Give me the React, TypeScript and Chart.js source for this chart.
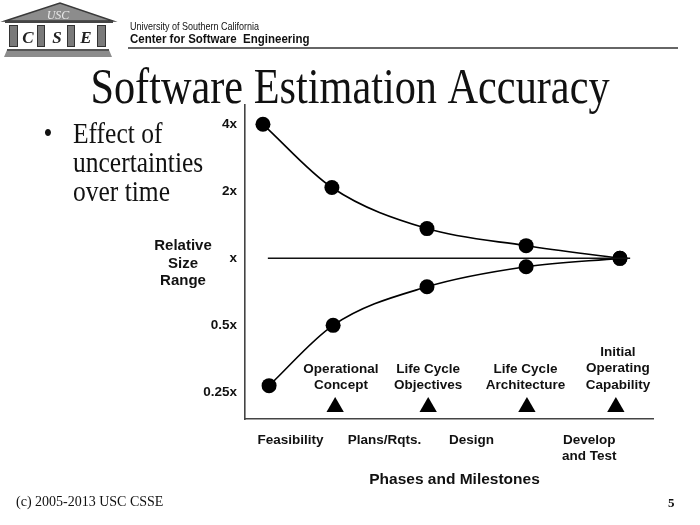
import React, { useEffect, useRef } from "react";
import { Chart, registerables } from "chart.js";

Chart.register(...registerables);

// ---- data ----
const upperX = [0.44, 2.13, 4.46, 6.89, 9.19];
const upperY = [4, 2.08, 1.36, 1.14, 1];
const lowerX = [0.59, 2.16, 4.46, 6.89, 9.19];
const lowerY = [0.268, 0.5, 0.745, 0.917, 1];
const milestoneX = [2.21, 4.49, 6.91, 9.09];
const milestoneY = [0.215, 0.215, 0.215, 0.215];
const referenceX = [0.56, 9.44];
const referenceY = [1, 1];
const tickValues = [0.25, 0.5, 1, 2, 4];
const tickLabels = ["0.25x", "0.5x", "x", "2x", "4x"];
const milestoneLabelX = [2.35, 4.49, 6.875, 9.14];
const milestoneLabels = [
  ["Operational", "Concept"],
  ["Life Cycle", "Objectives"],
  ["Life Cycle", "Architecture"],
  ["Initial", "Operating", "Capability"],
];
const phaseLabelX = [1.115, 3.42, 5.55, 8.44];
const phaseLabels = [["Feasibility"], ["Plans/Rqts."], ["Design"], ["Develop", "and Test"]];
const yTitleLines = ["Relative", "Size", "Range"];
const bulletLines = ["Effect of", "uncertainties", "over time"];
const titleText = "Software Estimation Accuracy";
const xTitleText = "Phases and Milestones";
const headerSmall = "University of Southern California";
const headerBig = "Center for Software  Engineering";
const footerText = "(c) 2005-2013 USC CSSE";
const pageNumber = "5";

const SANS = '"Liberation Sans", Arial, sans-serif';
const SERIF = '"Liberation Serif", "Times New Roman", serif';
const INK = "#111";

function pts(xs: number[], ys: number[]) {
  return xs.map((x, i) => ({ x, y: ys[i] }));
}

function drawText(
  ctx: CanvasRenderingContext2D,
  text: string,
  x: number,
  y: number,
  font: string,
  align: CanvasTextAlign = "center",
  sy = 1,
  color = INK
) {
  ctx.save();
  ctx.font = font;
  ctx.fillStyle = color;
  ctx.textAlign = align;
  ctx.textBaseline = "alphabetic";
  ctx.translate(x, y);
  ctx.scale(1, sy);
  ctx.fillText(text, 0, 0);
  ctx.restore();
}

function drawLogo(ctx: CanvasRenderingContext2D) {
  ctx.save();
  // pediment
  ctx.beginPath();
  ctx.moveTo(5, 21);
  ctx.lineTo(60, 3);
  ctx.lineTo(113, 21);
  ctx.closePath();
  ctx.fillStyle = "#8c8c8c";
  ctx.fill();
  ctx.strokeStyle = "#3a3a3a";
  ctx.lineWidth = 1.5;
  ctx.stroke();
  drawText(ctx, "USC", 58, 18.5, `italic 12px ${SERIF}`, "center", 1, "#e8e8e8");
  // architrave line
  ctx.fillStyle = "#444";
  ctx.fillRect(5, 21, 108, 2);
  // columns
  const cols = [
    [9, 9],
    [37, 8],
    [67, 8],
    [97, 9],
  ];
  cols.forEach(([x, w]) => {
    ctx.fillStyle = "#7a7a7a";
    ctx.fillRect(x, 25, w, 22);
    ctx.strokeStyle = "#333";
    ctx.lineWidth = 1;
    ctx.strokeRect(x + 0.5, 25.5, w - 1, 21);
  });
  drawText(ctx, "C", 28, 43, `italic bold 17px ${SERIF}`, "center", 1, "#222");
  drawText(ctx, "S", 57, 43, `italic bold 17px ${SERIF}`, "center", 1, "#222");
  drawText(ctx, "E", 86, 43, `italic bold 17px ${SERIF}`, "center", 1, "#222");
  // base
  ctx.beginPath();
  ctx.moveTo(7, 50);
  ctx.lineTo(109, 50);
  ctx.lineTo(112, 57);
  ctx.lineTo(4, 57);
  ctx.closePath();
  ctx.fillStyle = "#8c8c8c";
  ctx.fill();
  ctx.fillStyle = "#555";
  ctx.fillRect(7, 49, 102, 2);
  ctx.restore();
}

const slidePlugin = {
  id: "slideText",
  afterDraw(chart: any) {
    const ctx: CanvasRenderingContext2D = chart.ctx;
    const xs = chart.scales.x;
    drawLogo(ctx);
    // header
    drawText(ctx, headerSmall, 130, 30, `9px ${SANS}`, "left", 1.12);
    drawText(ctx, headerBig, 130, 42.5, `bold 11.5px ${SANS}`, "left", 1.12);
    ctx.save();
    ctx.strokeStyle = "#333";
    ctx.lineWidth = 1.3;
    ctx.beginPath();
    ctx.moveTo(128, 48);
    ctx.lineTo(678, 48);
    ctx.stroke();
    ctx.restore();
    // title
    drawText(ctx, titleText, 350, 103, `42.3px ${SERIF}`, "center", 1.2);
    // bullet
    drawText(ctx, "\u2022", 48, 143, `25.5px ${SERIF}`, "center", 1.12);
    const bulletBase = [143, 172, 200.5];
    bulletLines.forEach((t, i) => drawText(ctx, t, 73, bulletBase[i], `25.5px ${SERIF}`, "left", 1.12));
    // y title
    const yBase = [250, 267.5, 285];
    yTitleLines.forEach((t, i) => drawText(ctx, t, 183, yBase[i], `bold 15px ${SANS}`, "center"));
    // milestone labels
    milestoneLabels.forEach((lines, i) => {
      const px = xs.getPixelForValue(milestoneLabelX[i]);
      const bases = lines.length === 3 ? [355.5, 372, 388.5] : [373, 389];
      lines.forEach((t, j) => drawText(ctx, t, px, bases[j], `bold 13.5px ${SANS}`, "center"));
    });
    // phase labels
    phaseLabels.forEach((lines, i) => {
      const px = xs.getPixelForValue(phaseLabelX[i]);
      const bases = [443.5, 459.5];
      lines.forEach((t, j) => drawText(ctx, t, px, bases[j], `bold 13.5px ${SANS}`, "center"));
    });
    drawText(ctx, xTitleText, 454.5, 483.5, `bold 15.5px ${SANS}`, "center");
    // footer
    drawText(ctx, footerText, 16, 505.5, `14px ${SERIF}`, "left");
    drawText(ctx, pageNumber, 668, 507, `bold 13px ${SERIF}`, "left");
  },
};

export default function App() {
  const ref = useRef<HTMLCanvasElement | null>(null);

  useEffect(() => {
    if (!ref.current) return;
    const curve = {
      borderColor: "#000",
      borderWidth: 1.6,
      pointRadius: 7.5,
      pointBackgroundColor: "#000",
      pointBorderColor: "#000",
      pointBorderWidth: 0,
      cubicInterpolationMode: "monotone" as const,
      fill: false,
    };
    const chart = new Chart(ref.current, {
      type: "line",
      data: {
        datasets: [
          {
            data: pts(referenceX, referenceY),
            borderColor: "#111",
            borderWidth: 1.5,
            pointRadius: 0,
            tension: 0,
          },
          { data: pts(upperX, upperY), ...curve },
          { data: pts(lowerX, lowerY), ...curve },
          {
            data: pts(milestoneX, milestoneY),
            showLine: false,
            pointStyle: "triangle",
            pointRadius: 10,
            pointBackgroundColor: "#000",
            pointBorderColor: "#000",
            pointBorderWidth: 0,
          },
        ],
      },
      options: {
        animation: false,
        responsive: false,
        devicePixelRatio: 1,
        clip: false as any,
        layout: { padding: { left: 195, right: 47, top: 105, bottom: 106 } },
        plugins: {
          legend: { display: false },
          tooltip: { enabled: false },
        },
        scales: {
          x: {
            type: "linear",
            min: 0,
            max: 10,
            afterFit: (s: any) => {
              s.height = 0;
            },
            ticks: { display: false },
            grid: { display: false, drawTicks: false },
            border: { display: true, color: "#444", width: 1.6 },
          },
          y: {
            type: "logarithmic",
            min: 0.1898,
            max: 4.884,
            afterBuildTicks: (s: any) => {
              s.ticks = tickValues.map((v) => ({ value: v }));
            },
            afterFit: (s: any) => {
              s.width = 50;
            },
            ticks: {
              autoSkip: false,
              padding: 8,
              color: INK,
              font: { family: SANS, weight: "bold", size: 13.5 },
              callback: (v: any) => {
                const i = tickValues.indexOf(Number(v));
                return i >= 0 ? tickLabels[i] : "";
              },
            },
            grid: { display: false, drawTicks: false },
            border: { display: true, color: "#444", width: 1.6 },
          },
        },
      },
      plugins: [slidePlugin],
    });
    return () => chart.destroy();
  }, []);

  return (
    <div style={{ position: "absolute", left: 0, top: 0, width: 700, height: 525, background: "#fff" }}>
      <canvas ref={ref} width={700} height={525} style={{ display: "block" }} />
    </div>
  );
}
